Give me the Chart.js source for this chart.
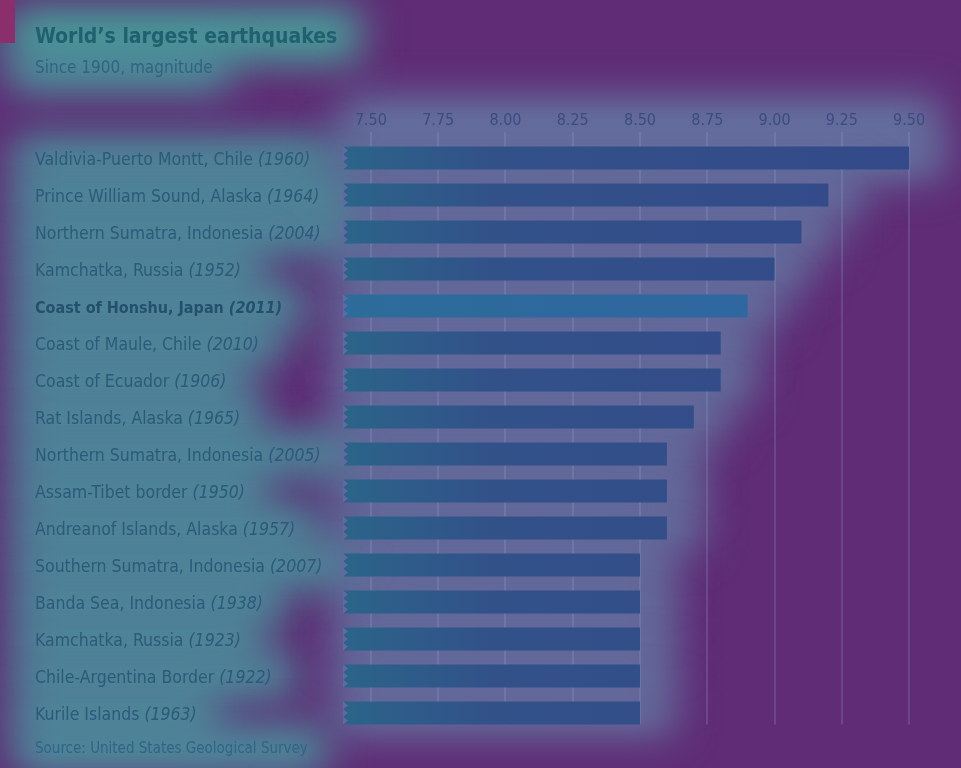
<!DOCTYPE html>
<html><head><meta charset="utf-8">
<script src="https://cdn.jsdelivr.net/npm/chart.js@4.4.1/dist/chart.umd.min.js"></script>
<style>html,body{margin:0;padding:0;background:#5f2c75;overflow:hidden}#wrap{width:961px;height:768px;position:relative}canvas{display:block}</style>
</head><body><div id="wrap"><canvas id="c" width="961" height="768"></canvas></div>
<script>
const places = ["Valdivia-Puerto Montt, Chile","Prince William Sound, Alaska","Northern Sumatra, Indonesia","Kamchatka, Russia","Coast of Honshu, Japan","Coast of Maule, Chile","Coast of Ecuador","Rat Islands, Alaska","Northern Sumatra, Indonesia","Assam-Tibet border","Andreanof Islands, Alaska","Southern Sumatra, Indonesia","Banda Sea, Indonesia","Kamchatka, Russia","Chile-Argentina Border","Kurile Islands"];
const years = ["1960","1964","2004","1952","2011","2010","1906","1965","2005","1950","1957","2007","1938","1923","1922","1963"];
const magnitudes = [9.5,9.2,9.1,9.0,8.9,8.8,8.8,8.7,8.6,8.6,8.6,8.5,8.5,8.5,8.5,8.5];
const highlighted = [false,false,false,false,true,false,false,false,false,false,false,false,false,false,false,false];
const tickValues = [7.5,7.75,8.0,8.25,8.5,8.75,9.0,9.25,9.5];
const tickLabels = ["7.50","7.75","8.00","8.25","8.50","8.75","9.00","9.25","9.50"];
const titleText = "World\u2019s largest earthquakes";
const subtitleText = "Since 1900, magnitude";
const sourceText = "Source: United States Geological Survey";

const LABEL_FONT = '"DejaVu Sans Condensed", sans-serif';
function labelFont(i, italic){
  const b = highlighted[i] ? 'bold 16px ' : '17.5px ';
  return (italic ? 'italic ' : '') + b + LABEL_FONT;
}

function labelWidth(ctx, i){
  ctx.font = labelFont(i, false);
  let w = ctx.measureText(places[i] + ' ').width;
  ctx.font = labelFont(i, true);
  w += ctx.measureText('(' + years[i] + ')').width;
  return w;
}

const glow = {
  id: 'glow',
  beforeDraw(chart){
    const {ctx, chartArea:a, scales:{x, y}} = chart;
    ctx.save();
    ctx.fillStyle = '#5f2c75';
    ctx.fillRect(0, 0, chart.width, chart.height);
    ctx.filter = 'blur(20px)';
    ctx.fillStyle = '#6478a3';
    ctx.fillRect(a.left - 4, 98, x.getPixelForValue(9.5) + 30 - (a.left - 4), 50);
    magnitudes.forEach((m, i) => {
      const yc = y.getPixelForValue(i);
      const xe = x.getPixelForValue(m);
      ctx.fillRect(a.left - 10, yc - 21, xe + 34 - (a.left - 10), 42);
    });
    ctx.fillStyle = '#4a9aa1';
    places.forEach((p, i) => {
      const yc = y.getPixelForValue(i);
      const w = labelWidth(ctx, i);
      ctx.fillRect(14, yc - 20, w + 44, 40);
    });
    ctx.font = '15px ' + LABEL_FONT;
    ctx.fillRect(14, 728, ctx.measureText(sourceText).width + 40, 44);
    ctx.fillStyle = '#47a29b';
    ctx.font = 'bold 21px ' + LABEL_FONT;
    ctx.fillRect(10, 8, ctx.measureText(titleText).width + 48, 54);
    ctx.fillStyle = '#4a9a9f';
    ctx.font = '17px ' + LABEL_FONT;
    ctx.fillRect(10, 50, ctx.measureText(subtitleText).width + 40, 40);
    ctx.filter = 'none';
    ctx.fillStyle = '#8a2f6c';
    ctx.fillRect(0, 0, 15, 43);
    ctx.restore();
  },
  beforeDatasetsDraw(chart){
    const {ctx, scales:{x}} = chart;
    const meta = chart.getDatasetMeta(0);
    const last = meta.data[meta.data.length - 1];
    const bottom = last.y + last.height / 2;
    ctx.save();
    ctx.strokeStyle = 'rgba(150,170,215,0.22)';
    ctx.lineWidth = 2;
    tickValues.forEach(v => {
      const px = Math.round(x.getPixelForValue(v));
      ctx.beginPath();
      ctx.moveTo(px, 132);
      ctx.lineTo(px, bottom);
      ctx.stroke();
    });
    ctx.restore();
  },
  afterDatasetsDraw(chart){
    const {ctx, chartArea:a} = chart;
    const meta = chart.getDatasetMeta(0);
    ctx.save();
    ctx.fillStyle = '#6468a2';
    meta.data.forEach(bar => {
      const top = bar.y - bar.height / 2;
      const seg = bar.height / 3;
      for (let k = 0; k < 3; k++) {
        ctx.beginPath();
        ctx.moveTo(a.left - 1, top + k * seg);
        ctx.lineTo(a.left + 4, top + k * seg + seg / 2);
        ctx.lineTo(a.left - 1, top + (k + 1) * seg);
        ctx.closePath();
        ctx.fill();
      }
    });
    ctx.restore();
  },
  afterDraw(chart){
    const {ctx, scales:{y}} = chart;
    ctx.save();
    ctx.textBaseline = 'alphabetic';
    ctx.textAlign = 'left';
    ctx.fillStyle = '#21606e';
    ctx.font = 'bold 21px ' + LABEL_FONT;
    ctx.fillText(titleText, 35, 43);
    ctx.fillStyle = '#2f6482';
    ctx.font = '17px ' + LABEL_FONT;
    ctx.fillText(subtitleText, 35, 73);
    places.forEach((p, i) => {
      const yc = y.getPixelForValue(i);
      ctx.fillStyle = highlighted[i] ? '#24506e' : '#2c5a7a';
      ctx.font = labelFont(i, false);
      const name = p + ' ';
      ctx.fillText(name, 35, yc + 6.5);
      const w = ctx.measureText(name).width;
      ctx.font = labelFont(i, true);
      ctx.fillText('(' + years[i] + ')', 35 + w, yc + 6.5);
    });
    ctx.fillStyle = '#2f6585';
    ctx.font = '15px ' + LABEL_FONT;
    ctx.fillText(sourceText, 35, 753);
    ctx.restore();
  }
};

const canvas = document.getElementById('c');
new Chart(canvas.getContext('2d'), {
  type: 'bar',
  data: {
    labels: places.map((p, i) => p + ' (' + years[i] + ')'),
    datasets: [{
      data: magnitudes,
      barPercentage: 0.615,
      categoryPercentage: 1,
      borderWidth: 0,
      backgroundColor: (c) => {
        const ch = c.chart, a = ch.chartArea;
        if (!a) return '#33508a';
        const g = ch.ctx.createLinearGradient(a.left, 0, a.right, 0);
        if (highlighted[c.dataIndex]) {
          g.addColorStop(0, '#2c6c9a');
          g.addColorStop(1, '#3064a2');
        } else {
          g.addColorStop(0, '#2b6489');
          g.addColorStop(0.25, '#325189');
          g.addColorStop(1, '#34498a');
        }
        return g;
      }
    }]
  },
  options: {
    indexAxis: 'y',
    responsive: false,
    animation: false,
    devicePixelRatio: 1,
    layout: { padding: { left: 36, right: 25, top: 109.5, bottom: 36.5 } },
    plugins: { legend: { display: false }, tooltip: { enabled: false }, title: { display: false } },
    scales: {
      x: {
        position: 'top',
        min: 7.4,
        max: 9.6,
        afterBuildTicks: (s) => { s.ticks = tickValues.map(v => ({ value: v })); },
        afterFit: (s) => { s.height = 30; },
        grid: { display: false, drawTicks: false },
        border: { display: false },
        ticks: {
          callback: (v, i) => tickLabels[i],
          color: '#3b4c7e',
          font: { family: '"DejaVu Sans Condensed", sans-serif', size: 16 },
          padding: 9,
          maxRotation: 0,
          autoSkip: false
        }
      },
      y: {
        afterFit: (s) => { s.width = 308; },
        ticks: { display: false },
        grid: { display: false },
        border: { display: false }
      }
    }
  },
  plugins: [glow]
});
</script>
</body></html>
